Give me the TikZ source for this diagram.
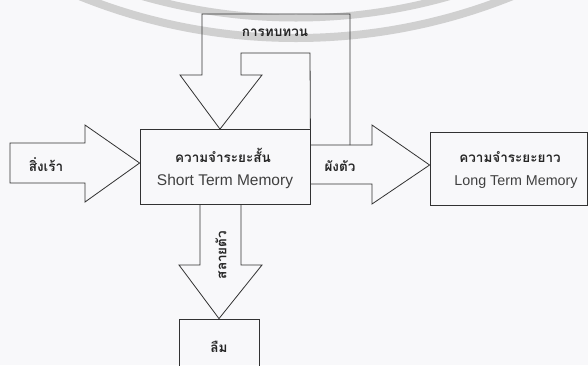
\documentclass[tikz,border=0pt]{standalone}
\usepackage{fontspec}
\setmainfont{Liberation Sans}
\newfontfamily\thaifont[Script=Thai]{Loma}
\usetikzlibrary{calc}
\definecolor{ln}{RGB}{50,50,50}
\definecolor{wm}{RGB}{208,208,208}
\definecolor{bg}{RGB}{248,248,250}
\begin{document}
\begin{tikzpicture}[x=1pt,y=-1pt,
  blk/.style={draw=ln, line width=0.8pt, line join=miter},
  boxst/.style={draw=ln, line width=0.8pt, rectangle, inner sep=0pt},
  th/.style={font=\thaifont\bfseries\fontsize{13.5}{16}\selectfont, text=black!85, inner sep=0pt},
  en/.style={font=\fontsize{15.5}{17}\selectfont, text=black!75, inner sep=0pt}]
\fill[bg] (0,0) rectangle (588,365);
\useasboundingbox (0,0) rectangle (588,365);
\clip (0,0) rectangle (588,365);
% watermark arcs
\draw[wm, line width=7pt] (296,-540) circle[radius=558pt];
\draw[wm, line width=8pt] (296,-540) circle[radius=578pt];
% boxes
\node[boxst, minimum width=170pt, minimum height=75pt] (stm) at (225,167) {};
\node[boxst, minimum width=157pt, minimum height=73pt] (ltm) at (508.5,168.5) {};
\node[boxst, minimum width=80pt, minimum height=56pt] (forget) at (219,347) {};
% input arrow
\draw[blk] (10,143) -- (85,143) -- (85,125) -- (stm.west |- 0,163) -- (85,202) -- (85,183) -- (10,183) -- cycle;
% output arrow
\draw[blk] (stm.east |- 0,145) -- (372,145) -- (372,125) -- (ltm.west |- 0,165) -- (372,204) -- (372,184) -- (stm.east |- 0,184);
% rehearsal loop arrow
\draw[blk] (350,145) -- (350,14) -- (202,14) -- (202,75) -- (180,75) -- (220,0 |- stm.north) -- (262,75) -- (241,75) -- (241,53) -- (310,53) -- (stm.north east);
% decay arrow
\draw[blk] (200,0 |- stm.south) -- (200,265) -- (179,265) -- (forget.north) -- (262,265) -- (241,265) -- (241,0 |- stm.south);
% labels
\node[th] (stmth) at (223,155) {ความจำระยะสั้น};
\node[en] (stmen) at (225,181) {Short Term Memory};
\node[th] (ltmth) at (510,157) {ความจำระยะยาว};
\node[en, font=\fontsize{14.3}{17}\selectfont] (ltmen) at (516,182) {Long Term Memory};
\node[th] (inlbl) at (46,165) {สิ่งเร้า};
\node[th] (outlbl) at (340,166) {ผังตัว};
\node[th] (revlbl) at (275,33) {การทบทวน};
\node[th, rotate=90] (decaylbl) at (221,255) {สลายตัว};
\node[th] (forgetlbl) at (forget.center) {ลืม};
\end{tikzpicture}
\end{document}
